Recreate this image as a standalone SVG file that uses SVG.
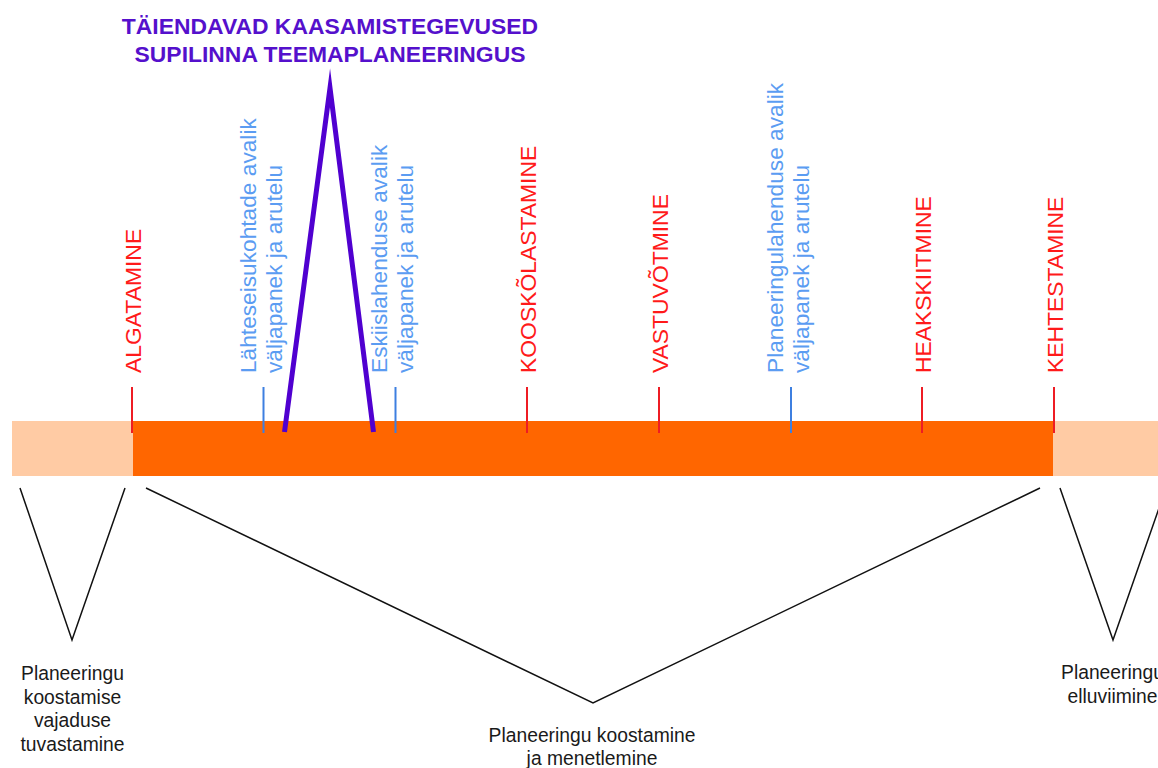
<svg xmlns="http://www.w3.org/2000/svg" width="1158" height="768" viewBox="0 0 1158 768">
<style>
.red{font-family:"Liberation Sans",Arial,sans-serif;font-size:22.9px;fill:#ff1a1a}
.blue{font-family:"Liberation Sans",Arial,sans-serif;font-size:22.7px;fill:#5b9cf2}
.title{font-family:"Liberation Sans",Arial,sans-serif;font-size:22.9px;font-weight:bold;fill:#5510cc}
.lbl{font-family:"Liberation Sans",Arial,sans-serif;font-size:19.3px;fill:#1a1a1a;text-anchor:middle}
.tr{stroke:#ee1c24;stroke-width:2}
.tb{stroke:#3d7fe0;stroke-width:2}
.conn{fill:none;stroke:#111;stroke-width:1.5}
</style>
<rect width="1158" height="768" fill="#fff"/>
<g id="bar">
<rect x="12" y="421" width="121" height="55" fill="#ffcba4"/>
<rect x="133" y="421" width="920" height="55" fill="#ff6600"/>
<rect x="1053" y="421" width="105" height="55" fill="#ffcba4"/>
</g>
<g id="algatamine"><line class="tr" x1="132" y1="387" x2="132" y2="433"/><text class="red" transform="translate(140.5,373) rotate(-90)">ALGATAMINE</text></g>
<g id="lahteseisukohad"><line class="tb" x1="263.5" y1="387" x2="263.5" y2="433"/><text class="blue" transform="translate(256,373) rotate(-90)"><tspan x="0" y="0">Lähteseisukohtade avalik</tspan><tspan x="0" y="26">väljapanek ja arutelu</tspan></text></g>
<g id="eskiislahendus"><line class="tb" x1="395.5" y1="387" x2="395.5" y2="433"/><text class="blue" transform="translate(387,373) rotate(-90)"><tspan x="0" y="0">Eskiislahenduse avalik</tspan><tspan x="0" y="26">väljapanek ja arutelu</tspan></text></g>
<g id="kooskolastamine"><line class="tr" x1="527" y1="387" x2="527" y2="433"/><text class="red" transform="translate(535.5,373) rotate(-90)">KOOSKÕLASTAMINE</text></g>
<g id="vastuvotmine"><line class="tr" x1="659" y1="387" x2="659" y2="433"/><text class="red" transform="translate(667.5,373) rotate(-90)">VASTUVÕTMINE</text></g>
<g id="planeeringulahendus"><line class="tb" x1="791" y1="387" x2="791" y2="433"/><text class="blue" transform="translate(783,373) rotate(-90)"><tspan x="0" y="0">Planeeringulahenduse avalik</tspan><tspan x="0" y="26">väljapanek ja arutelu</tspan></text></g>
<g id="heakskiitmine"><line class="tr" x1="922" y1="387" x2="922" y2="433"/><text class="red" transform="translate(930.5,373) rotate(-90)">HEAKSKIITMINE</text></g>
<g id="kehtestamine"><line class="tr" x1="1054" y1="387" x2="1054" y2="433"/><text class="red" transform="translate(1062.5,373) rotate(-90)">KEHTESTAMINE</text></g>
<g id="taiendavad">
<polyline points="284.5,432 330,88 373.5,432" fill="none" stroke="#5000d0" stroke-width="5" stroke-linejoin="miter" stroke-miterlimit="20"/>
<text class="title" text-anchor="middle" x="330" y="34">TÄIENDAVAD KAASAMISTEGEVUSED</text>
<text class="title" text-anchor="middle" x="330" y="62">SUPILINNA TEEMAPLANEERINGUS</text>
</g>
<g id="connectors">
<polyline class="conn" points="20,488 72,640 125,488"/>
<polyline class="conn" points="146,488 593,703 1040,488"/>
<polyline class="conn" points="1060,488 1113,640 1166,488"/>
</g>
<g id="faas1"><text class="lbl"><tspan x="72.5" y="680">Planeeringu</tspan><tspan x="72.5" y="703.7">koostamise</tspan><tspan x="72.5" y="727.4">vajaduse</tspan><tspan x="72.5" y="751">tuvastamine</tspan></text></g>
<g id="faas2"><text class="lbl"><tspan x="592" y="742">Planeeringu koostamine</tspan><tspan x="592" y="764.5">ja menetlemine</tspan></text></g>
<g id="faas3"><text class="lbl"><tspan x="1112.5" y="679">Planeeringu</tspan><tspan x="1112.5" y="703">elluviimine</tspan></text></g>
</svg>
